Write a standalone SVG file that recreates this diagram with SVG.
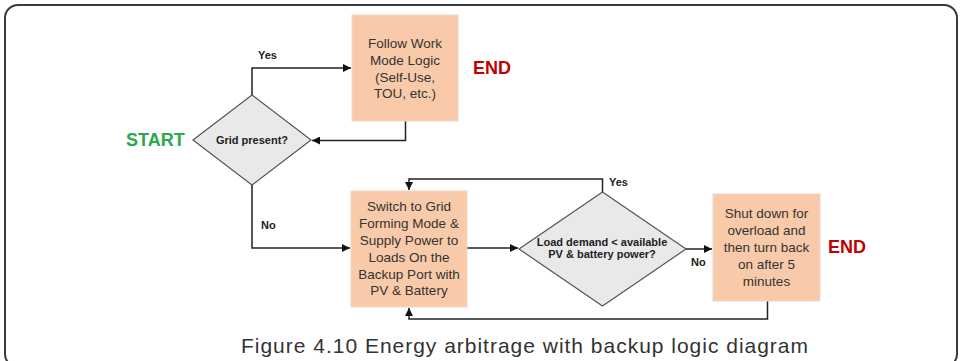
<svg xmlns="http://www.w3.org/2000/svg" width="960" height="361" viewBox="0 0 960 361">
  <defs>
    <marker id="arr" markerUnits="userSpaceOnUse" markerWidth="9" markerHeight="8" refX="8" refY="4" orient="auto">
      <path d="M0,0 L8,4 L0,8 z" fill="#111"/>
    </marker>
    <style>
      .box { fill: #f8caa9; stroke: #ead8cc; stroke-width: 1; }
      .dia { fill: #e9e9e9; stroke: #555; stroke-width: 1.2; }
      .bt { font-family: "Liberation Sans", Arial, sans-serif; font-size: 13.5px; fill: #333; text-anchor: middle; }
      .dt { font-family: "Liberation Sans", Arial, sans-serif; font-size: 11px; font-weight: bold; fill: #222; text-anchor: middle; }
      .lbl { font-family: "Liberation Sans", Arial, sans-serif; font-size: 11px; font-weight: bold; fill: #222; }
      .end { font-family: "Liberation Sans", Arial, sans-serif; font-size: 18px; font-weight: bold; fill: #c00000; }
      .start { font-family: "Liberation Sans", Arial, sans-serif; font-size: 18px; font-weight: bold; fill: #2aa84a; }
      .conn path { fill: none; stroke: #222; stroke-width: 1.5; marker-end: url(#arr); }
      .cap { font-family: "Liberation Sans", Arial, sans-serif; font-size: 21px; fill: #333; }
    </style>
  </defs>
  <rect x="0" y="0" width="960" height="361" fill="#ffffff"/>
  <rect x="5" y="5" width="952" height="362" rx="13" ry="13" fill="none" stroke="#3a3a3a" stroke-width="2"/>

  <g id="connectors" class="conn">
    <path d="M252,95 V68 H351"/>
    <path d="M405.5,121 V140.5 H312"/>
    <path d="M252,185 V248 H350"/>
    <path d="M467,248 H518"/>
    <path d="M602.5,192 V179 H409 V190"/>
    <path d="M686,249 H712"/>
    <path d="M767.5,301 V319 H409 V308"/>
  </g>

  <g id="labels">
    <text class="lbl" x="258" y="59">Yes</text>
    <text class="lbl" x="261" y="229">No</text>
    <text class="lbl" x="609" y="186">Yes</text>
    <text class="lbl" x="691" y="266">No</text>
  </g>

  <g id="start">
    <text class="start" x="126" y="146">START</text>
  </g>

  <g id="grid-present">
    <polygon class="dia" points="193,140 252,95 311,140 252,185"/>
    <text class="dt" x="252" y="144">Grid present?</text>
  </g>

  <g id="follow-work-mode">
    <rect class="box" x="352" y="15" width="106" height="106"/>
    <text class="bt" x="405" y="47.5">Follow Work</text>
    <text class="bt" x="405" y="64.5">Mode Logic</text>
    <text class="bt" x="405" y="81.5">(Self-Use,</text>
    <text class="bt" x="405" y="98">TOU, etc.)</text>
  </g>

  <g id="end1">
    <text class="end" x="473" y="74">END</text>
  </g>

  <g id="grid-forming">
    <rect class="box" x="351" y="191" width="116" height="116"/>
    <text class="bt" x="409" y="211">Switch to Grid</text>
    <text class="bt" x="409" y="228">Forming Mode &amp;</text>
    <text class="bt" x="409" y="245">Supply Power to</text>
    <text class="bt" x="409" y="262">Loads On the</text>
    <text class="bt" x="409" y="278.5">Backup Port with</text>
    <text class="bt" x="409" y="295">PV &amp; Battery</text>
  </g>

  <g id="load-demand">
    <polygon class="dia" points="519,249 602.5,192 686,249 602.5,306"/>
    <text class="dt" x="602" y="245.5">Load demand &lt; available</text>
    <text class="dt" x="602" y="258">PV &amp; battery power?</text>
  </g>

  <g id="shut-down">
    <rect class="box" x="713" y="194" width="107" height="107"/>
    <text class="bt" x="766.5" y="218">Shut down for</text>
    <text class="bt" x="766.5" y="235">overload and</text>
    <text class="bt" x="766.5" y="252">then turn back</text>
    <text class="bt" x="766.5" y="269">on after 5</text>
    <text class="bt" x="766.5" y="285.5">minutes</text>
  </g>

  <g id="end2">
    <text class="end" x="828" y="253">END</text>
  </g>

  <text class="cap" x="241" y="353" textLength="567" lengthAdjust="spacing">Figure 4.10 Energy arbitrage with backup logic diagram</text>
</svg>
